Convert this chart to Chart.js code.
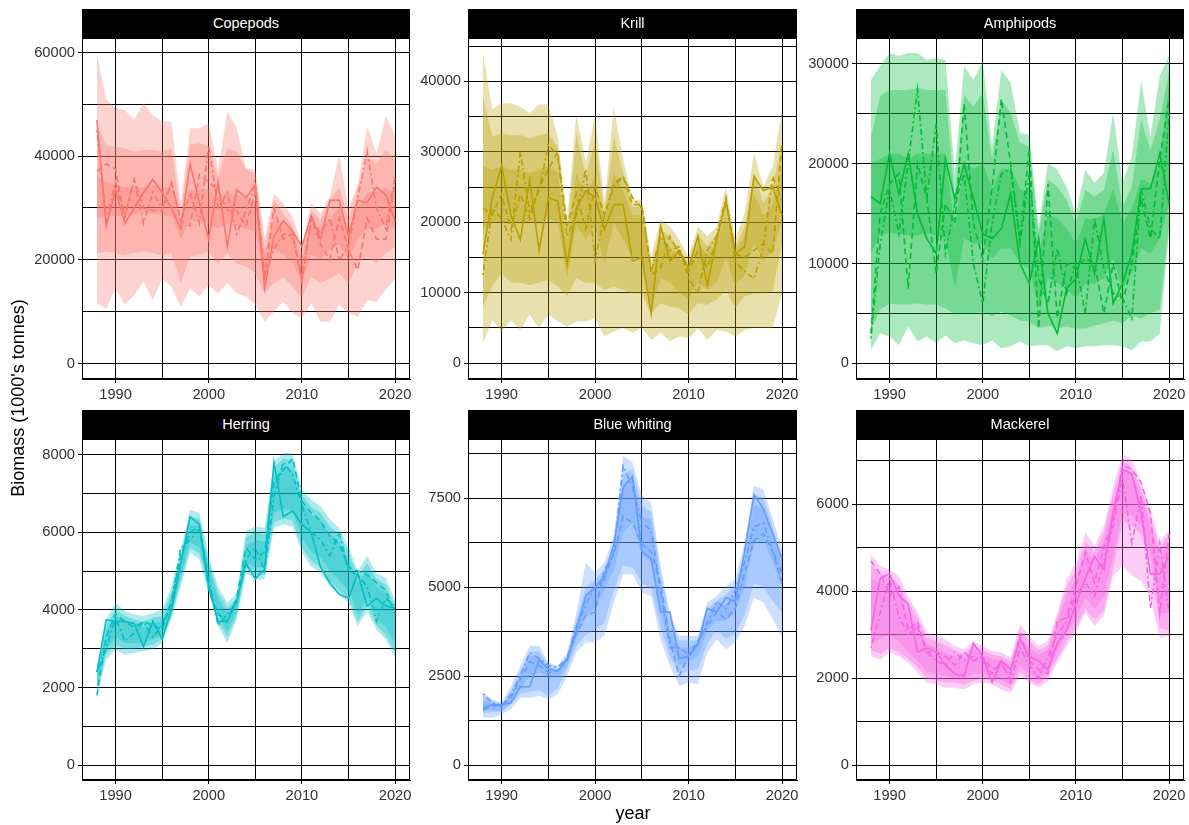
<!DOCTYPE html>
<html>
<head>
<meta charset="utf-8">
<script src="https://cdn.jsdelivr.net/npm/chart.js@4.4.1/dist/chart.umd.min.js"></script>
<style>
  body { margin: 0; background: #fff; }
  #wrap { position: relative; width: 1189px; height: 825px; font-family: "Liberation Sans", Arial, sans-serif; overflow: hidden; }
  #wrap canvas { position: absolute; }
  .strip { position: absolute; height: 29px; line-height: 29px; background: #000; color: #fff; text-align: center; font-size: 14.5px; z-index: 2; }
  .axtitle { position: absolute; font-size: 18px; color: #000; text-align: center; white-space: nowrap; }
</style>
</head>
<body>
<div id="wrap"></div>
<script>
var years = [1988, 1989, 1990, 1991, 1992, 1993, 1994, 1995, 1996, 1997, 1998, 1999, 2000, 2001, 2002, 2003, 2004, 2005, 2006, 2007, 2008, 2009, 2010, 2011, 2012, 2013, 2014, 2015, 2016, 2017, 2018, 2019, 2020];

var xTicks = [1990, 1995, 2000, 2005, 2010, 2015, 2020];
var xLabels = [1990, 2000, 2010, 2020];

// Copepods
var copSolid   = [47000, 26500, 33500, 27000, 30000, 33000, 35500, 33000, 30000, 26000, 38500, 31000, 24000, 35000, 22500, 33500, 32000, 34500, 14500, 24500, 27500, 25500, 22500, 28500, 24000, 31500, 31500, 24500, 31500, 31000, 34000, 32500, 27500];
var copDashed  = [37000, 38500, 37500, 28000, 35500, 30000, 29500, 29500, 35000, 27500, 26500, 36500, 35000, 33500, 29500, 29500, 26500, 33000, 16500, 30000, 24000, 25000, 16000, 28000, 23000, 20000, 28000, 22000, 18000, 28000, 24000, 24000, 35000];
var copDotdash = [45000, 27500, 35000, 28500, 35500, 27000, 33000, 30000, 35000, 27500, 33000, 27000, 42000, 30000, 33000, 25000, 29500, 34500, 17000, 22000, 25000, 24500, 16500, 28000, 25000, 28000, 20000, 22500, 32000, 41000, 30000, 26000, 36000];
var copHiA = [59600, 50900, 49300, 48900, 47000, 50200, 48000, 46700, 46700, 31000, 45400, 45400, 46400, 37400, 48600, 45400, 37700, 37400, 24000, 32800, 30900, 28300, 22900, 30900, 29000, 32200, 40200, 29900, 34400, 45700, 40600, 47700, 44100];
var copLoA = [11600, 10600, 14500, 11300, 13200, 15800, 12200, 16400, 14800, 10900, 14500, 12900, 15100, 13500, 15500, 13500, 12900, 11300, 8100, 10000, 11900, 9700, 8700, 11600, 8100, 8100, 11300, 9700, 9000, 12200, 11900, 14200, 16400];
var copHiB = [46400, 41900, 41900, 41500, 40900, 41200, 41200, 40900, 41500, 29000, 42200, 42500, 41900, 36100, 41500, 40900, 37400, 36700, 22000, 31600, 29000, 26400, 21300, 29600, 27700, 31600, 34100, 27700, 34100, 39900, 38600, 41200, 39300];
var copLoB = [21300, 21600, 21300, 20900, 21300, 21600, 21300, 20900, 21300, 15500, 20600, 20900, 21600, 19300, 21300, 19300, 18700, 17400, 13500, 15500, 16700, 14800, 12600, 16700, 15500, 16400, 17400, 15500, 19300, 20600, 19300, 21300, 22500];
var copHiC = [36000, 35000, 34500, 34000, 34000, 34000, 34500, 34000, 34000, 27000, 33500, 33500, 33500, 32000, 33000, 32500, 32000, 31500, 21000, 28000, 27000, 25500, 20000, 27000, 26000, 28000, 30000, 26000, 30000, 33000, 33000, 34000, 33000];
var copLoC = [28000, 28500, 28500, 28500, 28800, 29000, 29000, 28500, 28500, 24000, 27500, 27500, 27000, 26000, 27000, 26500, 26000, 25500, 17000, 22000, 21000, 19500, 15500, 21000, 20000, 22000, 23000, 20000, 24000, 26000, 26000, 27000, 26000];

// Krill
var krSolid   = [15500, 23500, 28000, 21000, 17500, 26000, 16000, 23500, 23000, 14000, 22000, 24500, 23500, 19000, 22500, 22500, 14500, 15000, 7000, 19500, 14500, 16000, 13500, 18000, 11000, 17500, 23000, 15500, 16500, 26500, 24500, 25000, 21000];
var krDashed  = [22000, 21000, 24000, 19000, 24000, 20500, 25000, 27500, 30000, 19500, 24000, 19000, 25000, 21000, 25500, 26500, 22500, 22500, 12500, 13500, 18000, 15500, 13000, 16000, 13500, 17500, 23000, 15500, 15000, 16000, 17000, 15500, 31500];
var krDotdash = [12500, 22000, 20500, 17500, 30000, 21500, 24500, 31000, 29500, 18000, 21000, 27500, 14500, 21000, 25000, 26500, 23500, 22000, 13000, 18000, 16000, 16500, 12000, 10000, 16000, 18000, 23500, 14500, 13000, 12000, 16500, 26500, 23000];
var krHiA = [44000, 36000, 36900, 36900, 36400, 35500, 36700, 36700, 32200, 20300, 35500, 28400, 35200, 22700, 36400, 28900, 23200, 23200, 15100, 20300, 19400, 17500, 15100, 19400, 18000, 19400, 25100, 17500, 21300, 29800, 25100, 27900, 35900];
var krLoA = [2800, 6100, 4500, 6100, 4700, 6900, 5000, 6900, 5900, 5200, 5900, 5900, 6400, 3800, 4500, 5000, 4300, 5000, 3300, 4300, 3100, 3800, 3500, 5000, 3300, 4700, 4500, 3800, 4700, 5000, 5000, 5000, 9900];
var krHiB = [37800, 32200, 32600, 32400, 32400, 31900, 32400, 32600, 30700, 18400, 32600, 26500, 31700, 21300, 32200, 27000, 22200, 22200, 13700, 18900, 18000, 16100, 14200, 18400, 16600, 18400, 23700, 16600, 19400, 27000, 22700, 25100, 31200];
var krLoB = [8000, 10900, 12800, 11400, 11400, 11100, 11400, 11800, 10900, 9500, 12100, 11400, 11400, 10400, 10900, 10400, 9900, 9900, 7100, 8500, 8000, 7800, 6900, 8500, 8300, 9000, 10400, 7800, 9500, 9900, 9900, 10200, 17000];
var krHiC = [28000, 27500, 28000, 27500, 27500, 27000, 27500, 28000, 27000, 17000, 27000, 24000, 26500, 20000, 27000, 24500, 21000, 21000, 12500, 17500, 16500, 15000, 13500, 17000, 15500, 17000, 21000, 16000, 18000, 24000, 21000, 22500, 28000];
var krLoC = [19000, 20000, 20000, 20000, 20000, 20000, 20000, 20500, 20000, 12000, 19500, 17500, 19500, 14000, 20000, 17500, 15000, 15000, 8000, 12000, 11500, 10000, 9000, 11500, 10500, 11500, 15000, 11000, 12500, 17000, 14500, 16000, 20000];

// Amphipods
var amSolid   = [16700, 16000, 21000, 17000, 21000, 15000, 12500, 11000, 20500, 16500, 20000, 16500, 13000, 12500, 13500, 17000, 10000, 8000, 12500, 5000, 3000, 7500, 8500, 12500, 9000, 14500, 6000, 8000, 11000, 17500, 17500, 21000, 16000];
var amDashed  = [3000, 15000, 18000, 19000, 7500, 20000, 16500, 9000, 16000, 14000, 26000, 14000, 10500, 17500, 26500, 20000, 12500, 21500, 3500, 18000, 4500, 10000, 9500, 10500, 10000, 5000, 10000, 6000, 10000, 16500, 12500, 20500, 26500];
var amDotdash = [2500, 12000, 17500, 13000, 20000, 27500, 16500, 24000, 11000, 16000, 19000, 10000, 6000, 14000, 19000, 19500, 12000, 19000, 8500, 6000, 11500, 7000, 10000, 5000, 14500, 9500, 7000, 6500, 4500, 17500, 13500, 12500, 25000];
var amHiA = [28400, 29800, 31100, 30800, 31100, 31100, 30400, 30600, 30400, 19100, 29800, 28400, 30300, 21700, 29400, 28100, 23100, 22900, 13700, 20100, 19400, 17700, 15000, 19400, 18100, 19100, 25100, 18100, 20700, 28300, 22700, 28800, 30900];
var amLoA = [1300, 3000, 2700, 1800, 3700, 2200, 2700, 2000, 2800, 2000, 2300, 2000, 1800, 2300, 1500, 1700, 2200, 1700, 1800, 1800, 1200, 1700, 1500, 1700, 1700, 1800, 1800, 1700, 1300, 2200, 2200, 3000, 13000];
var amHiB = [22700, 26800, 27400, 27400, 27400, 27600, 27400, 27400, 27400, 16700, 26900, 25700, 27100, 20400, 26400, 25100, 22100, 21700, 13000, 18400, 17700, 16400, 14000, 17400, 16700, 17400, 21400, 15700, 17700, 24400, 21400, 24400, 29400];
var amLoB = [3300, 5400, 6000, 5900, 5900, 6000, 5900, 5900, 5500, 5000, 5000, 5000, 5200, 4700, 5200, 4800, 4300, 4200, 3500, 3800, 3500, 3700, 3500, 3500, 3800, 4000, 4300, 4000, 4800, 4500, 5000, 5400, 14000];
var amHiC = [20000, 20500, 21000, 21000, 20500, 21000, 21000, 21000, 21000, 13500, 20000, 19500, 20000, 17500, 19500, 19500, 17500, 17000, 11000, 15000, 14500, 13500, 12000, 14500, 14500, 15000, 17500, 14000, 15500, 18500, 18000, 20000, 28000];
var amLoC = [11000, 13000, 13000, 13000, 12800, 12800, 13000, 12800, 12500, 7500, 12500, 12000, 12000, 10500, 11500, 11500, 10000, 9500, 5500, 8500, 8000, 7500, 6500, 8000, 8000, 8500, 10500, 7500, 9000, 11500, 11000, 12500, 16000];

// Herring
var heSolid   = [2400, 3750, 3700, 3700, 3650, 3050, 3700, 3250, 4000, 5200, 6400, 6200, 4600, 3700, 3700, 4250, 5200, 4800, 5050, 7800, 6400, 6550, 6200, 6000, 5100, 4700, 4400, 4300, 4950, 4100, 4300, 4100, 4050];
var heDashed  = [1800, 3300, 3900, 3700, 3550, 3700, 3600, 3500, 4200, 5400, 6000, 6150, 4500, 3900, 3700, 4300, 5600, 5300, 5500, 7300, 7600, 7900, 6800, 6500, 6300, 5900, 5700, 5100, 5000, 4900, 4700, 4500, 3900];
var heDotdash = [2400, 3000, 3800, 3200, 3400, 3700, 3300, 3600, 4200, 5600, 5800, 6100, 4800, 3600, 3900, 4200, 5300, 5600, 5000, 6900, 7800, 7500, 6700, 6000, 5800, 5400, 6000, 5000, 4900, 4600, 3700, 4300, 4100];
var heHiA = [2550, 3750, 4180, 3970, 3880, 3840, 3920, 4010, 4610, 5550, 6580, 6500, 5380, 4610, 4180, 4440, 6030, 6150, 6110, 7830, 8040, 8040, 7100, 6840, 6670, 6330, 6110, 5640, 5000, 5380, 4950, 4820, 4270];
var heLoA = [1780, 2720, 2980, 2850, 2890, 2940, 2980, 3150, 3750, 4610, 5470, 5300, 4440, 3580, 3150, 3750, 4950, 4780, 4780, 6110, 6200, 6150, 5470, 5120, 4950, 4610, 4390, 4180, 3580, 3970, 3490, 3240, 2760];
var heHiB = [2450, 3600, 4000, 3850, 3750, 3700, 3800, 3850, 4450, 5400, 6400, 6350, 5250, 4450, 4050, 4300, 5850, 6000, 5950, 7650, 7900, 7850, 6950, 6650, 6500, 6150, 5950, 5500, 4850, 5200, 4800, 4650, 4100];
var heLoB = [1900, 2850, 3100, 3000, 3000, 3050, 3100, 3250, 3850, 4750, 5600, 5450, 4550, 3700, 3300, 3850, 5050, 4900, 4900, 6250, 6350, 6300, 5600, 5250, 5100, 4750, 4500, 4300, 3700, 4100, 3600, 3350, 2900];
var heHiC = [2350, 3450, 3850, 3700, 3650, 3550, 3650, 3700, 4300, 5250, 6200, 6150, 5100, 4300, 3900, 4200, 5650, 5800, 5750, 7400, 7650, 7600, 6750, 6450, 6300, 5950, 5750, 5300, 4700, 5000, 4600, 4450, 3950];
var heLoC = [2000, 3000, 3300, 3150, 3150, 3150, 3250, 3350, 3950, 4850, 5750, 5600, 4650, 3850, 3450, 3950, 5200, 5100, 5100, 6500, 6600, 6550, 5850, 5500, 5350, 5000, 4750, 4500, 3900, 4300, 3800, 3550, 3150];

// Blue whiting
var bwSolid   = [1600, 1700, 1700, 1750, 2200, 2200, 2950, 2700, 2650, 2950, 3800, 4750, 5000, 5300, 6200, 7800, 8100, 6000, 5800, 4300, 4300, 3000, 3050, 3400, 4400, 4300, 4700, 4600, 6000, 7600, 7200, 6500, 5800];
var bwDashed  = [1550, 1650, 1700, 1900, 2400, 2900, 2800, 2600, 2650, 3000, 3700, 4200, 4300, 5500, 5900, 7000, 6800, 6200, 6000, 5100, 3500, 2500, 3100, 3500, 3900, 4300, 4100, 4400, 5400, 6300, 6500, 6000, 5100];
var bwDotdash = [2000, 1750, 1650, 2000, 2500, 3150, 3000, 2800, 2750, 3000, 3900, 4500, 5000, 5200, 6000, 8400, 7800, 6800, 6600, 4900, 3300, 3300, 3100, 3400, 4000, 4600, 4400, 4900, 5700, 6700, 6800, 6000, 5400];
var bwHiA = [2030, 1850, 1750, 2220, 2780, 3350, 3350, 2880, 2780, 3160, 4280, 5690, 5410, 5690, 6440, 8690, 8500, 7570, 7380, 5600, 4280, 3630, 3630, 3630, 4570, 4750, 5030, 5220, 6250, 7850, 7750, 6910, 6070];
var bwLoA = [1330, 1330, 1430, 1570, 1890, 1890, 1940, 1850, 1990, 2500, 3160, 3440, 3440, 3630, 4570, 5360, 5360, 4850, 4750, 3530, 2780, 2220, 2320, 2270, 3160, 3530, 3250, 3440, 3910, 4710, 4570, 4100, 3580];
var bwHiB = [1950, 1800, 1700, 2100, 2650, 3200, 3200, 2800, 2700, 3050, 4100, 5000, 5200, 5500, 6250, 8200, 8300, 7300, 7100, 5400, 4100, 3500, 3500, 3500, 4400, 4600, 4800, 5050, 6000, 7600, 7500, 6700, 5800];
var bwLoB = [1450, 1500, 1500, 1700, 2000, 2050, 2100, 1950, 2150, 2700, 3350, 3650, 3800, 4000, 4900, 5600, 5550, 5100, 4950, 3850, 3050, 2550, 2650, 2700, 3400, 3800, 3550, 3700, 4200, 5100, 5000, 4600, 4300];
var bwHiC = [1800, 1750, 1680, 1950, 2500, 3050, 3050, 2700, 2650, 3000, 3900, 4800, 5000, 5400, 6100, 7900, 8100, 7000, 6900, 5000, 3800, 3300, 3300, 3450, 4200, 4550, 4500, 4800, 5800, 7300, 7200, 6400, 5800];
var bwLoC = [1550, 1550, 1520, 1750, 2150, 2500, 2600, 2450, 2450, 2800, 3550, 4150, 4450, 4900, 5500, 6500, 6800, 5900, 5700, 4300, 3300, 2800, 2900, 3050, 3800, 4050, 4050, 4300, 5000, 6200, 6300, 5700, 5000];

// Mackerel
var mkSolid   = [3100, 4300, 4400, 3900, 3700, 2600, 2700, 2600, 2300, 2100, 2050, 2800, 2500, 1900, 2400, 2200, 2900, 2500, 2400, 2200, 2800, 3100, 3700, 4300, 4800, 4500, 5800, 6800, 6700, 5800, 4400, 4400, 4800];
var mkDashed  = [4700, 4400, 3900, 4100, 3100, 3300, 2600, 2600, 2500, 2300, 2600, 2400, 2500, 2200, 2300, 2100, 3000, 2400, 2200, 2100, 3300, 3400, 4100, 4900, 4200, 5000, 5600, 6900, 6800, 6500, 5800, 3500, 5300];
var mkDotdash = [2700, 3500, 4300, 3400, 3000, 3200, 2600, 2400, 2300, 2600, 2400, 2500, 2400, 2100, 2400, 1900, 2700, 2300, 2000, 2500, 3000, 3300, 3900, 4200, 3900, 4700, 5500, 6600, 5100, 6200, 3600, 5100, 3500];
var mkHiA = [4850, 4580, 4500, 4350, 3890, 3510, 3050, 2970, 2890, 2740, 2660, 2850, 2740, 2620, 2590, 2470, 3240, 2970, 2740, 2850, 3510, 4270, 4660, 5350, 5040, 5500, 6420, 7150, 7040, 6500, 5890, 5120, 5420];
var mkLoA = [2510, 2430, 2590, 2510, 2360, 2130, 1900, 1860, 1780, 1780, 1740, 1860, 1900, 1860, 1740, 1660, 2050, 1900, 1780, 1930, 2360, 2740, 3050, 3510, 3200, 3430, 4350, 4580, 4350, 4240, 3810, 2930, 2970];
var mkHiB = [4600, 4400, 4350, 4150, 3750, 3400, 2950, 2850, 2750, 2650, 2550, 2750, 2650, 2550, 2500, 2400, 3100, 2850, 2650, 2750, 3400, 4100, 4500, 5150, 4900, 5350, 6250, 7000, 6850, 6350, 5700, 5000, 5300];
var mkLoB = [2650, 2550, 2700, 2600, 2450, 2250, 2000, 1950, 1900, 1900, 1850, 1950, 2000, 1950, 1850, 1750, 2150, 1950, 1850, 2050, 2450, 2850, 3150, 3600, 3350, 3550, 4500, 5600, 5500, 5300, 4700, 3150, 3100];
var mkHiC = [4300, 4200, 4150, 3950, 3500, 3200, 2800, 2700, 2600, 2500, 2450, 2650, 2550, 2450, 2400, 2300, 2950, 2700, 2550, 2650, 3250, 3900, 4300, 4950, 4700, 5150, 6000, 6800, 6700, 6200, 5500, 4800, 5100];
var mkLoC = [2800, 2900, 3000, 2850, 2600, 2400, 2150, 2100, 2050, 2000, 2000, 2100, 2100, 2050, 1950, 1850, 2300, 2100, 2000, 2150, 2600, 3050, 3350, 3850, 3600, 3850, 4800, 5800, 5750, 5500, 4900, 3500, 3500];

// y ticks (all grid lines) and the labelled ones
var copTicks = [0, 10000, 20000, 30000, 40000, 50000, 60000];
var copLabels = [0, 20000, 40000, 60000];
var krTicks = [0, 5000, 10000, 15000, 20000, 25000, 30000, 35000, 40000, 45000];
var krLabels = [0, 10000, 20000, 30000, 40000];
var amTicks = [0, 5000, 10000, 15000, 20000, 25000, 30000];
var amLabels = [0, 10000, 20000, 30000];
var heTicks = [0, 1000, 2000, 3000, 4000, 5000, 6000, 7000, 8000];
var heLabels = [0, 2000, 4000, 6000, 8000];
var bwTicks = [0, 1250, 2500, 3750, 5000, 6250, 7500, 8750];
var bwLabels = [0, 2500, 5000, 7500];
var mkTicks = [0, 1000, 2000, 3000, 4000, 5000, 6000, 7000];
var mkLabels = [0, 2000, 4000, 6000];

var panels = [
  {name: 'Copepods', rgb: [248, 118, 109], lines: [copSolid, copDashed, copDotdash], bands: [[copHiA, copLoA], [copHiB, copLoB], [copHiC, copLoC]], yTicks: copTicks, yLabels: copLabels, ymin: -3000, ymax: 62800},
  {name: 'Krill', rgb: [183, 159, 0], lines: [krSolid, krDashed, krDotdash], bands: [[krHiA, krLoA], [krHiB, krLoB], [krHiC, krLoC]], yTicks: krTicks, yLabels: krLabels, ymin: -2250, ymax: 46150},
  {name: 'Amphipods', rgb: [0, 186, 56], lines: [amSolid, amDashed, amDotdash], bands: [[amHiA, amLoA], [amHiB, amLoB], [amHiC, amLoC]], yTicks: amTicks, yLabels: amLabels, ymin: -1570, ymax: 32600},
  {name: 'Herring', rgb: [0, 191, 196], lines: [heSolid, heDashed, heDotdash], bands: [[heHiA, heLoA], [heHiB, heLoB], [heHiC, heLoC]], yTicks: heTicks, yLabels: heLabels, ymin: -380, ymax: 8400},
  {name: 'Blue whiting', rgb: [97, 156, 255], lines: [bwSolid, bwDashed, bwDotdash], bands: [[bwHiA, bwLoA], [bwHiB, bwLoB], [bwHiC, bwLoC]], yTicks: bwTicks, yLabels: bwLabels, ymin: -420, ymax: 9160},
  {name: 'Mackerel', rgb: [245, 100, 227], lines: [mkSolid, mkDashed, mkDotdash], bands: [[mkHiA, mkLoA], [mkHiB, mkLoB], [mkHiC, mkLoC]], yTicks: mkTicks, yLabels: mkLabels, ymin: -340, ymax: 7500}
];

// plot area boxes in page pixels
var boxes = [
  {x: 82, y: 38, w: 328, h: 341}, {x: 468, y: 38, w: 329, h: 341}, {x: 856, y: 38, w: 328, h: 341},
  {x: 82, y: 439, w: 328, h: 341}, {x: 468, y: 439, w: 329, h: 341}, {x: 856, y: 439, w: 328, h: 341}
];

var dashes = [[], [6, 4], [2, 3, 6, 3]];
var tickFont = {family: '"Liberation Sans", Arial, sans-serif', size: 14.7};
var wrap = document.getElementById('wrap');

function pts(arr) {
  return years.map(function (yr, i) { return {x: yr, y: arr[i]}; });
}
function rgba(c, a) { return 'rgba(' + c[0] + ',' + c[1] + ',' + c[2] + ',' + a + ')'; }

var frame = {
  id: 'frame',
  afterDraw: function (chart) {
    var a = chart.chartArea, c = chart.ctx;
    c.save();
    c.strokeStyle = '#000';
    c.lineWidth = 1;
    c.strokeRect(Math.round(a.left) + 0.5, Math.round(a.top) + 0.5, Math.round(a.right - a.left) - 1, Math.round(a.bottom - a.top) - 1);
    c.restore();
  }
};

function makePanel(p, box) {
  var padL = 80, padB = 30, padR = 20, padT = 14;
  var w = box.w + padL + padR, h = box.h + padB + padT;
  var cv = document.createElement('canvas');
  cv.width = w; cv.height = h;
  cv.style.width = w + 'px'; cv.style.height = h + 'px';
  cv.style.left = (box.x - padL) + 'px';
  cv.style.top = (box.y - padT) + 'px';
  wrap.appendChild(cv);

  var strip = document.createElement('div');
  strip.className = 'strip';
  strip.style.left = box.x + 'px';
  strip.style.width = box.w + 'px';
  strip.style.top = (box.y - 29) + 'px';
  strip.textContent = p.name;
  wrap.appendChild(strip);

  var col = rgba(p.rgb, 1);
  var ds = [];
  p.lines.forEach(function (arr, k) {
    ds.push({data: pts(arr), borderColor: col, borderWidth: 1.6, borderDash: dashes[k], pointRadius: 0, fill: false});
  });
  p.bands.forEach(function (b) {
    ds.push({data: pts(b[1]), borderColor: 'rgba(0,0,0,0)', borderWidth: 1, pointRadius: 0, fill: false});
    ds.push({data: pts(b[0]), borderColor: 'rgba(0,0,0,0)', borderWidth: 1, pointRadius: 0, fill: '-1', backgroundColor: rgba(p.rgb, 0.32)});
  });

  new Chart(cv.getContext('2d'), {
    type: 'line',
    data: {datasets: ds},
    options: {
      responsive: false,
      animation: false,
      devicePixelRatio: 1,
      events: [],
      layout: {padding: {left: 0, right: padR, top: padT, bottom: 0}},
      plugins: {legend: {display: false}, tooltip: {enabled: false}},
      scales: {
        x: {
          type: 'linear', min: 1986.4, max: 2021.6,
          afterBuildTicks: function (s) { s.ticks = xTicks.map(function (v) { return {value: v}; }); },
          afterFit: function (s) { s.height = padB; },
          ticks: {
            autoSkip: false, maxRotation: 0, padding: 3, color: '#333', font: tickFont,
            callback: function (v) { return xLabels.indexOf(v) >= 0 ? String(v) : ''; }
          },
          grid: {
            color: '#000', lineWidth: 1, tickLength: 4,
            tickColor: function (c) { return c.tick && xLabels.indexOf(c.tick.value) >= 0 ? '#000' : 'rgba(0,0,0,0)'; }
          },
          border: {color: '#000', width: 1}
        },
        y: {
          min: p.ymin, max: p.ymax,
          afterBuildTicks: function (s) { s.ticks = p.yTicks.map(function (v) { return {value: v}; }); },
          afterFit: function (s) { s.width = padL; },
          ticks: {
            autoSkip: false, padding: 3, color: '#333', font: tickFont,
            callback: function (v) { return p.yLabels.indexOf(v) >= 0 ? String(v) : ''; }
          },
          grid: {
            color: '#000', lineWidth: 1, tickLength: 4,
            tickColor: function (c) { return c.tick && p.yLabels.indexOf(c.tick.value) >= 0 ? '#000' : 'rgba(0,0,0,0)'; }
          },
          border: {color: '#000', width: 1}
        }
      }
    },
    plugins: [frame]
  });
}

panels.forEach(function (p, i) { makePanel(p, boxes[i]); });

var ytitle = document.createElement('div');
ytitle.className = 'axtitle';
ytitle.textContent = "Biomass (1000's tonnes)";
ytitle.style.width = '300px'; ytitle.style.height = '22px'; ytitle.style.lineHeight = '22px';
ytitle.style.left = (18 - 150) + 'px'; ytitle.style.top = (398 - 11) + 'px';
ytitle.style.transform = 'rotate(-90deg)';
wrap.appendChild(ytitle);

var xtitle = document.createElement('div');
xtitle.className = 'axtitle';
xtitle.textContent = 'year';
xtitle.style.width = '100px'; xtitle.style.height = '22px'; xtitle.style.lineHeight = '22px';
xtitle.style.left = (633 - 50) + 'px'; xtitle.style.top = (813 - 11) + 'px';
wrap.appendChild(xtitle);
</script>
</body>
</html>
